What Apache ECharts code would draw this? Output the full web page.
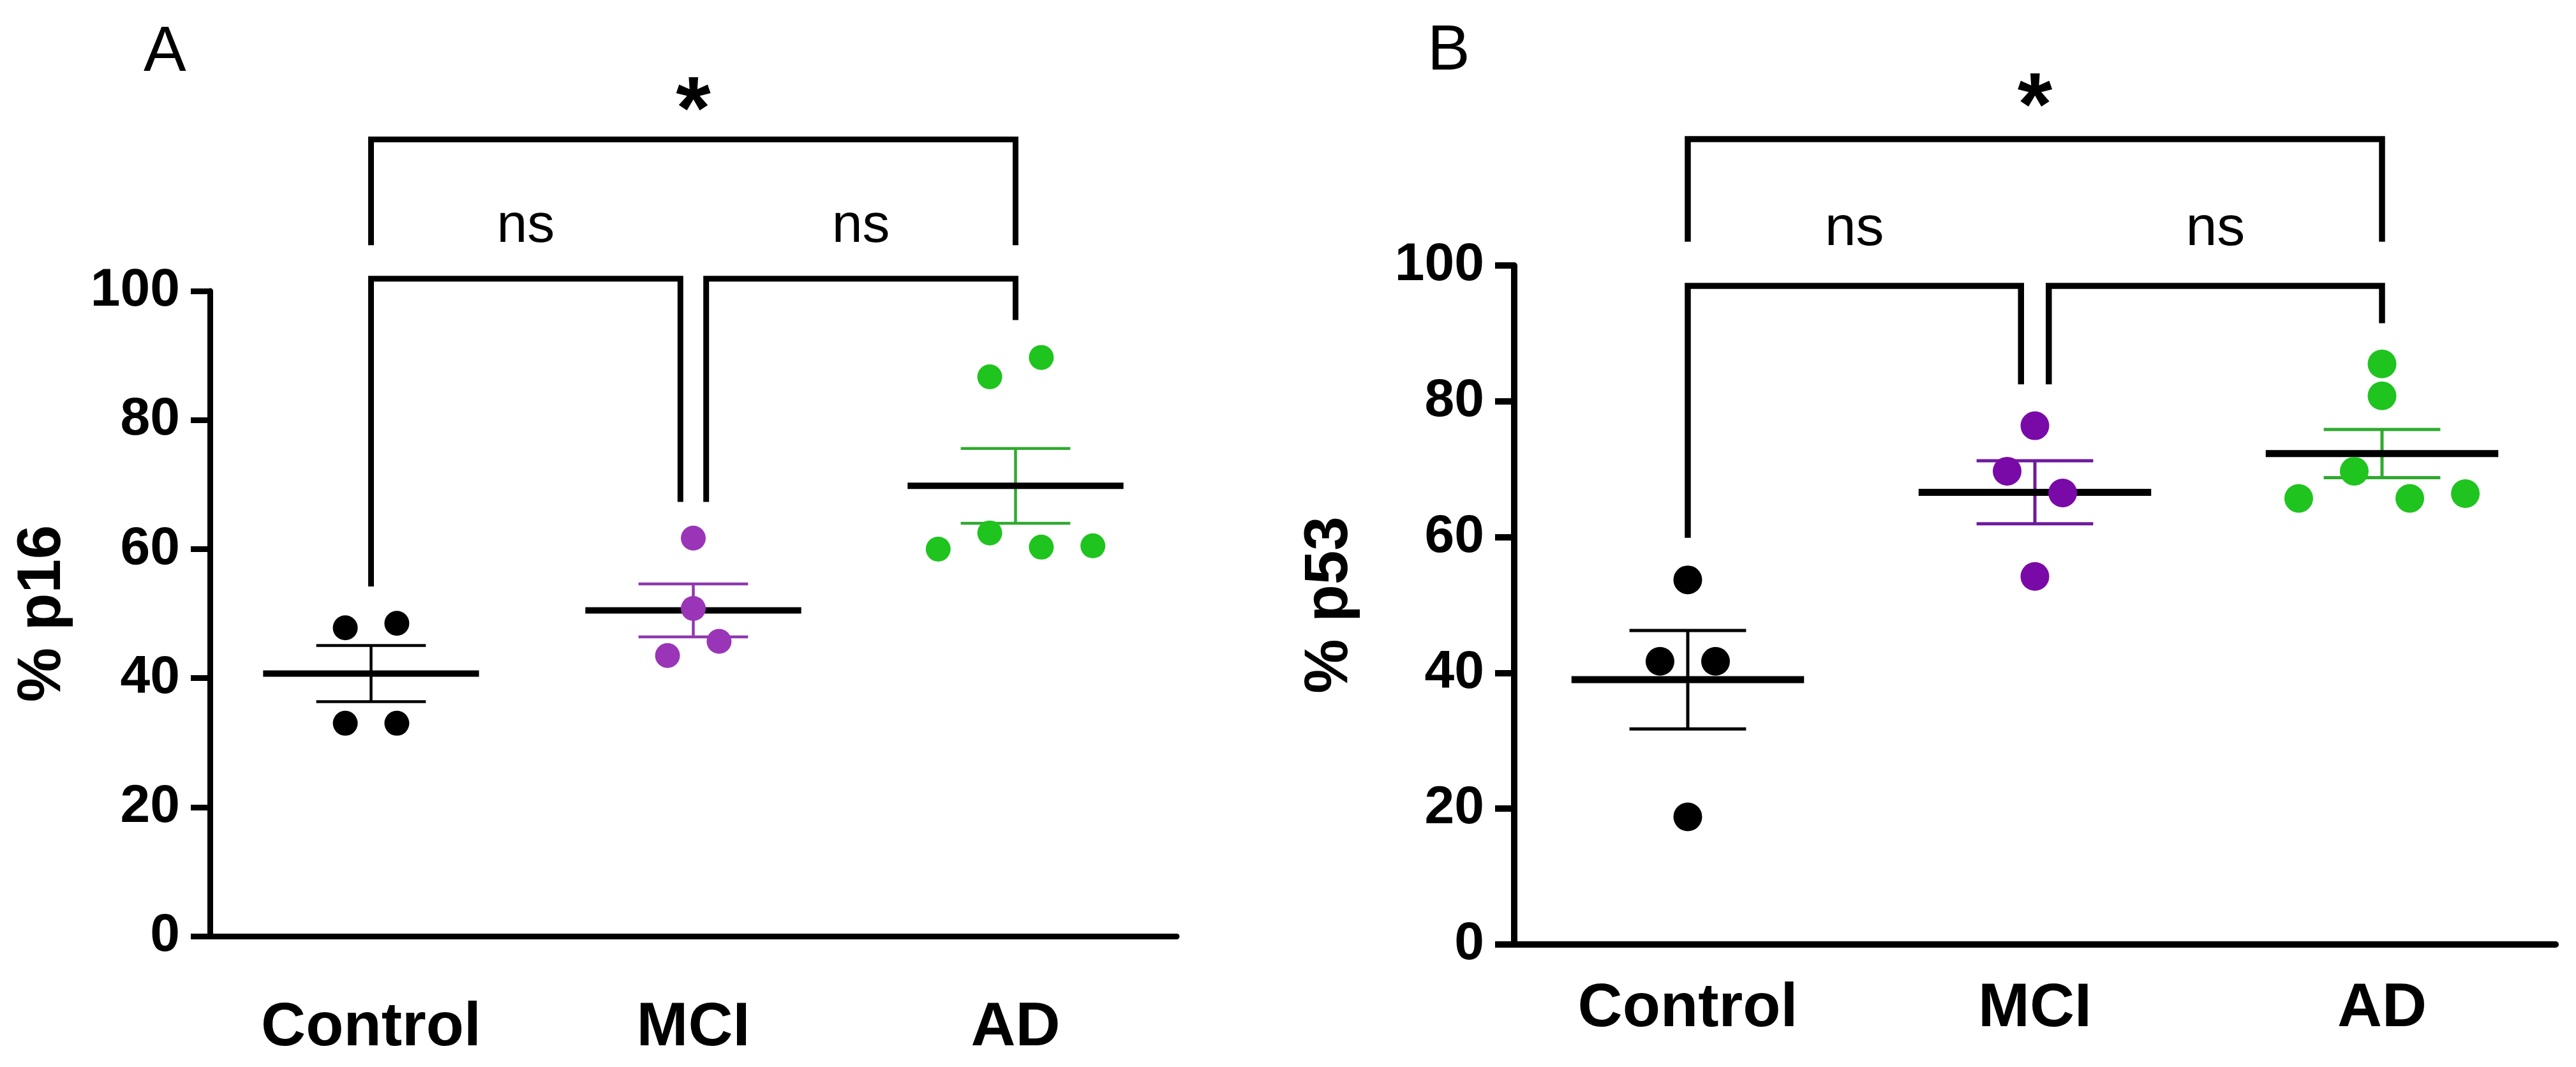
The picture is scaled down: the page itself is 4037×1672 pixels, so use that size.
<!DOCTYPE html>
<html><head><meta charset="utf-8">
<script src="https://cdn.jsdelivr.net/npm/echarts@6/dist/echarts.min.js"></script>
<style>html,body{margin:0;padding:0;background:#fff}#c{width:4037px;height:1672px}</style>
</head><body><div id="c"></div>
<script>
// ---------- data ----------
const categories = ['Control', 'MCI', 'AD'];
const yTickValues = [0, 20, 40, 60, 80, 100];

// Panel A: % p16
const p16Control = [47.8, 48.5, 33.0, 33.0];
const p16MCI = [61.7, 50.8, 43.5, 45.7];
const p16AD = [86.7, 89.7, 60.0, 62.5, 60.3, 60.5];
const p16Mean = [40.7, 50.5, 69.8];
const p16Sem = [4.35, 4.1, 5.8];

// Panel B: % p53
const p53Control = [53.7, 41.7, 41.7, 18.8];
const p53MCI = [76.4, 69.7, 66.5, 54.2];
const p53AD = [85.5, 80.8, 69.7, 65.7, 65.7, 66.4];
const p53Mean = [39.0, 66.6, 72.3];
const p53Sem = [7.25, 4.65, 3.55];

// significance brackets: [x1, x2, yBar, yLeg1, yLeg2]
const p16Brackets = [[0, 2, 123.5, 107.1, 107.1], [0, 0.96, 101.9, 54.2, 67.3], [1.04, 2, 101.9, 67.3, 95.5]];
const p53Brackets = [[0, 2, 118.6, 103.5, 103.5], [0, 0.96, 97.0, 59.9, 82.5], [1.04, 2, 97.0, 82.5, 91.5]];
// significance labels: [x, y, text]
const p16Labels = [[1, 127.5, '*'], [0.48, 110.0, 'ns'], [1.52, 110.0, 'ns']];
const p53Labels = [[1, 122.9, '*'], [0.48, 105.3, 'ns'], [1.52, 105.3, 'ns']];

// ---------- layout / style ----------
const FONT = '"Liberation Sans", Arial, Helvetica, sans-serif';
const DOT_STEP = 0.16;
const offA = [[-0.5, 0.5, -0.5, 0.5], [0, 0, -0.5, 0.5], [-0.5, 0.5, -1.5, -0.5, 0.5, 1.5]];
const offB = [[0, -0.5, 0.5, 0], [0, -0.5, 0.5, 0], [0, 0, -0.5, -1.5, 0.5, 1.5]];
const colA = ['#000000', '#9a35b8', '#1fc41f'];
const semColA = ['#000000', '#9038b0', '#2faa2f'];
const colB = ['#000000', '#7a0aa8', '#1fc41f'];
const semColB = ['#000000', '#6e1a9e', '#2faa2f'];

function meanSemRender(colors, meanHalf, semHalf, meanW, semW) {
  return function (params, api) {
    const i = api.value(0), m = api.value(1), s = api.value(2);
    const L = api.coord([i - meanHalf, m]), R = api.coord([i + meanHalf, m]);
    const top = api.coord([i, m + s]), bot = api.coord([i, m - s]);
    const cL = api.coord([i - semHalf, m]), cR = api.coord([i + semHalf, m]);
    const col = colors[params.dataIndex];
    return {
      type: 'group', children: [
        { type: 'line', shape: { x1: top[0], y1: top[1], x2: bot[0], y2: bot[1] }, style: { stroke: col, lineWidth: semW } },
        { type: 'line', shape: { x1: cL[0], y1: top[1], x2: cR[0], y2: top[1] }, style: { stroke: col, lineWidth: semW } },
        { type: 'line', shape: { x1: cL[0], y1: bot[1], x2: cR[0], y2: bot[1] }, style: { stroke: col, lineWidth: semW } },
        { type: 'line', shape: { x1: L[0], y1: L[1], x2: R[0], y2: R[1] }, style: { stroke: '#000', lineWidth: meanW } }
      ]
    };
  };
}
function bracketRender(w) {
  return function (params, api) {
    const x1 = api.value(0), x2 = api.value(1), yb = api.value(2), l1 = api.value(3), l2 = api.value(4);
    const pts = [api.coord([x1, l1]), api.coord([x1, yb]), api.coord([x2, yb]), api.coord([x2, l2])];
    return { type: 'polyline', shape: { points: pts }, style: { stroke: '#000', lineWidth: w, fill: null, lineJoin: 'miter', lineCap: 'butt' } };
  };
}
function labelRender(list, starSize, nsSize) {
  return function (params, api) {
    const row = list[params.dataIndex];
    const p = api.coord([row[0], row[1]]);
    const star = row[2] === '*';
    return {
      type: 'text', x: p[0], y: p[1],
      style: { text: row[2], fill: '#000', fontFamily: FONT, fontSize: star ? starSize : nsSize, fontWeight: star ? 'bold' : 'normal', align: 'center', verticalAlign: 'middle' }
    };
  };
}
function scatter(values, offs, g, xi, yi, color, size) {
  return {
    type: 'scatter', xAxisIndex: xi, yAxisIndex: yi, symbol: 'circle', symbolSize: size, z: 5,
    itemStyle: { color: color, opacity: 1 }, silent: true,
    data: values.map((v, k) => [g + offs[k] * DOT_STEP, v])
  };
}
function catAxis(grid, margin, lw) {
  return {
    gridIndex: grid, type: 'category', data: categories, boundaryGap: true,
    axisLine: { onZero: false, lineStyle: { color: '#000', width: lw } },
    axisTick: { alignWithLabel: true, length: 31, lineStyle: { color: '#000', width: lw } },
    axisLabel: { color: '#000', fontSize: 97, fontWeight: 'bold', fontFamily: FONT, margin: margin },
    splitLine: { show: false }
  };
}
function valXAxis(grid) {
  return { gridIndex: grid, type: 'value', min: -0.5, max: 2.5, show: false, splitLine: { show: false } };
}
function yAxis(grid, name, gap, lw) {
  return {
    gridIndex: grid, type: 'value', min: yTickValues[0], max: yTickValues[yTickValues.length - 1], interval: 20,
    axisLine: { show: true, onZero: false, lineStyle: { color: '#000', width: lw } },
    axisTick: { show: true, length: 30, lineStyle: { color: '#000', width: lw } },
    axisLabel: { color: '#000', fontSize: 84, fontWeight: 'bold', fontFamily: FONT, margin: 47 },
    splitLine: { show: false },
    name: name, nameLocation: 'middle', nameGap: gap,
    nameTextStyle: { color: '#000', fontSize: 96, fontWeight: 'bold', fontFamily: FONT }
  };
}

const chart = echarts.init(document.getElementById('c'), null, { renderer: 'canvas' });
chart.setOption({
  animation: false,
  backgroundColor: '#fff',
  title: [
    { text: 'A', left: 220, top: 28, textStyle: { fontSize: 100, fontWeight: 'normal', color: '#000', fontFamily: FONT } },
    { text: 'B', left: 2232, top: 26, textStyle: { fontSize: 100, fontWeight: 'normal', color: '#000', fontFamily: FONT } }
  ],
  grid: [
    { left: 329, top: 456, width: 1515, height: 1011 },
    { left: 2373, top: 416, width: 1632, height: 1064 }
  ],
  xAxis: [catAxis(0, 96, 9), valXAxis(0), catAxis(1, 53, 10), valXAxis(1)],
  yAxis: [yAxis(0, '% p16', 213, 9), yAxis(1, '% p53', 240, 10)],
  series: [
    { type: 'custom', xAxisIndex: 1, yAxisIndex: 0, z: 3, silent: true, renderItem: meanSemRender(semColA, 0.335, 0.17, 10, 4.5),
      data: categories.map((c, i) => [i, p16Mean[i], p16Sem[i]]) },
    { type: 'custom', xAxisIndex: 1, yAxisIndex: 0, z: 3, silent: true, clip: false, renderItem: bracketRender(9), data: p16Brackets },
    { type: 'custom', xAxisIndex: 1, yAxisIndex: 0, z: 3, silent: true, clip: false, renderItem: labelRender(p16Labels, 140, 86), data: p16Labels.map(r => [r[0], r[1]]) },
    scatter(p16Control, offA[0], 0, 1, 0, colA[0], 39),
    scatter(p16MCI, offA[1], 1, 1, 0, colA[1], 39),
    scatter(p16AD, offA[2], 2, 1, 0, colA[2], 39),

    { type: 'custom', xAxisIndex: 3, yAxisIndex: 1, z: 3, silent: true, renderItem: meanSemRender(semColB, 0.335, 0.168, 11, 5),
      data: categories.map((c, i) => [i, p53Mean[i], p53Sem[i]]) },
    { type: 'custom', xAxisIndex: 3, yAxisIndex: 1, z: 3, silent: true, clip: false, renderItem: bracketRender(9.5), data: p53Brackets },
    { type: 'custom', xAxisIndex: 3, yAxisIndex: 1, z: 3, silent: true, clip: false, renderItem: labelRender(p53Labels, 140, 88), data: p53Labels.map(r => [r[0], r[1]]) },
    scatter(p53Control, offB[0], 0, 3, 1, colB[0], 45),
    scatter(p53MCI, offB[1], 1, 3, 1, colB[1], 45),
    scatter(p53AD, offB[2], 2, 3, 1, colB[2], 45)
  ]
});
</script></body></html>
